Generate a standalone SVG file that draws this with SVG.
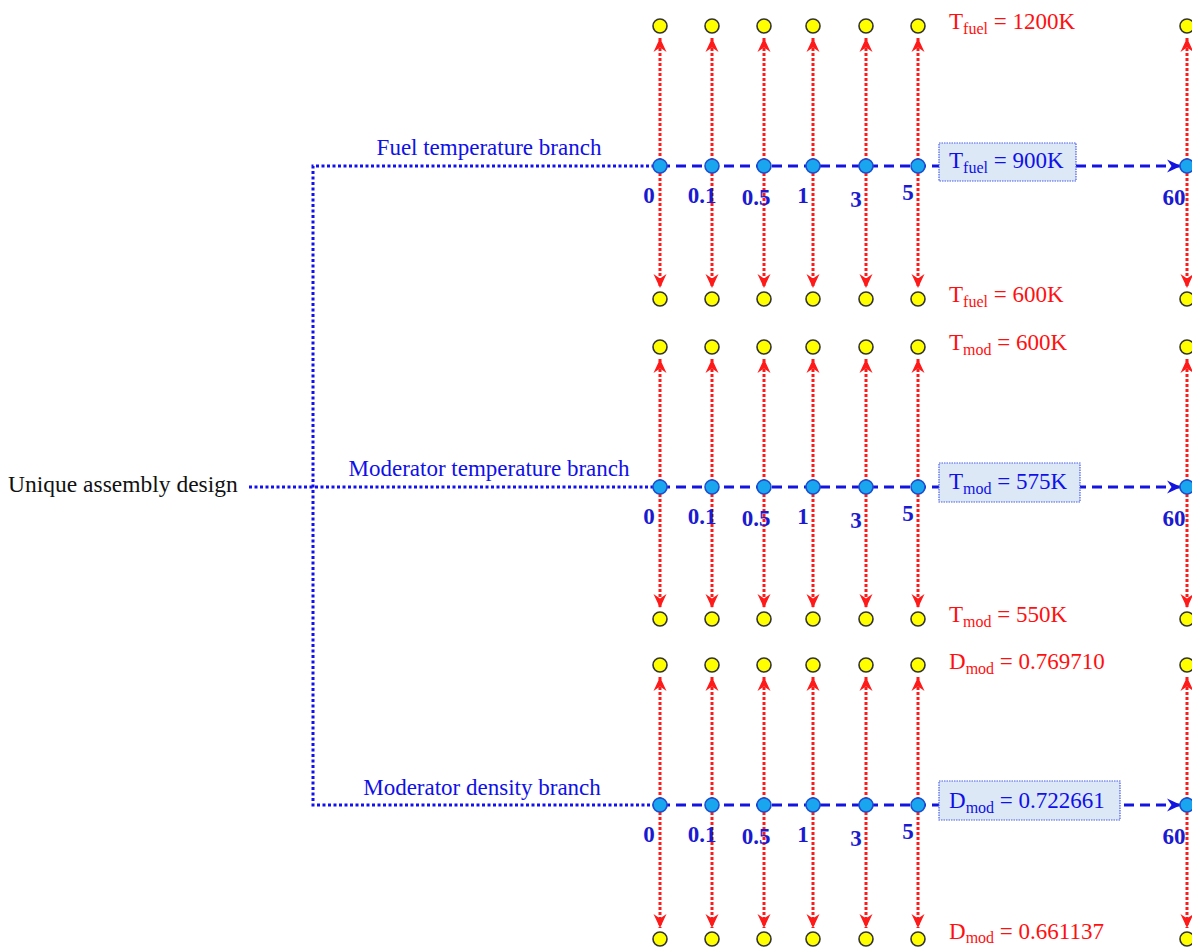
<svg xmlns="http://www.w3.org/2000/svg" width="1192" height="947" viewBox="0 0 1192 947">
<style>
.ser{font-family:"Liberation Serif","Times New Roman",serif}
.lbl{font-size:23px;fill:#1010e8}
.num{font-size:23px;font-weight:bold;fill:#1a1ad0;text-anchor:middle}
.red{font-size:23px;fill:#ff1010}
.sub{font-size:16px}
.blk{font-size:23.5px;fill:#111}
.yel{fill:#ffff00;stroke:#333;stroke-width:1.6}
.bn{fill:#1aa6ee;stroke:#1c4fd0;stroke-width:1.6}
.rl{stroke:#ff1a1a;stroke-width:3;stroke-dasharray:3,2;fill:none;marker-start:url(#ra);marker-end:url(#ra)}
.dot{stroke:#1010f0;stroke-width:3;stroke-dasharray:3,2.5;fill:none}
.dash{stroke:#1414e0;stroke-width:3;stroke-dasharray:10,6;fill:none;marker-end:url(#ba)}
.box{fill:#dce8f6;stroke:#4a5ee8;stroke-width:1.2;stroke-dasharray:1.5,1}
</style>
<defs>
<marker id="ra" markerUnits="userSpaceOnUse" markerWidth="16" markerHeight="14" refX="14" refY="7" orient="auto-start-reverse"><path d="M0,0.5 L14,7 L0,13.5 L4.5,7 z" fill="#ff1a1a"/></marker>
<marker id="ba" markerUnits="userSpaceOnUse" markerWidth="16" markerHeight="14" refX="14" refY="7" orient="auto"><path d="M0,0.5 L14,7 L0,13.5 L4.5,7 z" fill="#1414e0"/></marker>
</defs>
<rect width="1192" height="947" fill="#fff"/>
<g id="root">
<text class="ser blk" x="8" y="492">Unique assembly design</text>
</g>
<g id="connectors">
<path class="dot" d="M249,487 H660"/>
<path class="dot" d="M660,166 H313 V805 H660"/>
<g>
<path class="rl" d="M660,38 V288"/><path class="rl" d="M712,38 V288"/><path class="rl" d="M764,38 V288"/><path class="rl" d="M813,38 V288"/><path class="rl" d="M866,38 V288"/><path class="rl" d="M918,38 V288"/><path class="rl" d="M1187,38 V288"/>
</g>
<g>
<path class="rl" d="M660,359 V608"/><path class="rl" d="M712,359 V608"/><path class="rl" d="M764,359 V608"/><path class="rl" d="M813,359 V608"/><path class="rl" d="M866,359 V608"/><path class="rl" d="M918,359 V608"/><path class="rl" d="M1187,359 V608"/>
</g>
<g>
<path class="rl" d="M660,677 V928"/><path class="rl" d="M712,677 V928"/><path class="rl" d="M764,677 V928"/><path class="rl" d="M813,677 V928"/><path class="rl" d="M866,677 V928"/><path class="rl" d="M918,677 V928"/><path class="rl" d="M1187,677 V928"/>
</g>
<path class="dash" d="M660,166 H1181"/>
<path class="dash" d="M660,487 H1181"/>
<path class="dash" d="M660,805 H1181"/>
</g>
<g id="branch-fuel">
<text class="ser lbl" x="489" y="155" text-anchor="middle">Fuel temperature branch</text>
<g><circle class="yel" cx="660" cy="26" r="7"/><circle class="yel" cx="712" cy="26" r="7"/><circle class="yel" cx="764" cy="26" r="7"/><circle class="yel" cx="813" cy="26" r="7"/><circle class="yel" cx="866" cy="26" r="7"/><circle class="yel" cx="918" cy="26" r="7"/><circle class="yel" cx="1187" cy="26" r="7"/></g>
<g><circle class="yel" cx="660" cy="299" r="7"/><circle class="yel" cx="712" cy="299" r="7"/><circle class="yel" cx="764" cy="299" r="7"/><circle class="yel" cx="813" cy="299" r="7"/><circle class="yel" cx="866" cy="299" r="7"/><circle class="yel" cx="918" cy="299" r="7"/><circle class="yel" cx="1187" cy="299" r="7"/></g>
<g><circle class="bn" cx="660" cy="166" r="7"/><circle class="bn" cx="712" cy="166" r="7"/><circle class="bn" cx="764" cy="166" r="7"/><circle class="bn" cx="813" cy="166" r="7"/><circle class="bn" cx="866" cy="166" r="7"/><circle class="bn" cx="918" cy="166" r="7"/><circle class="bn" cx="1187" cy="166" r="7"/></g>
<rect class="box" x="939" y="143" width="137" height="38"/>
<text class="ser lbl" x="949" y="168">T<tspan class="sub" dy="5">fuel</tspan><tspan dy="-5"> = 900K</tspan></text>
<text class="ser red" x="949" y="29">T<tspan class="sub" dy="5">fuel</tspan><tspan dy="-5"> = 1200K</tspan></text>
<text class="ser red" x="949" y="302">T<tspan class="sub" dy="5">fuel</tspan><tspan dy="-5"> = 600K</tspan></text>
<g class="ser num"><text x="649" y="203">0</text><text x="702" y="203">0.1</text><text x="756" y="205">0.5</text><text x="803" y="203">1</text><text x="856" y="207">3</text><text x="908" y="200">5</text><text x="1174" y="205">60</text></g>
</g>
<g id="branch-modtemp">
<text class="ser lbl" x="489" y="476" text-anchor="middle">Moderator temperature branch</text>
<g><circle class="yel" cx="660" cy="347" r="7"/><circle class="yel" cx="712" cy="347" r="7"/><circle class="yel" cx="764" cy="347" r="7"/><circle class="yel" cx="813" cy="347" r="7"/><circle class="yel" cx="866" cy="347" r="7"/><circle class="yel" cx="918" cy="347" r="7"/><circle class="yel" cx="1187" cy="347" r="7"/></g>
<g><circle class="yel" cx="660" cy="619" r="7"/><circle class="yel" cx="712" cy="619" r="7"/><circle class="yel" cx="764" cy="619" r="7"/><circle class="yel" cx="813" cy="619" r="7"/><circle class="yel" cx="866" cy="619" r="7"/><circle class="yel" cx="918" cy="619" r="7"/><circle class="yel" cx="1187" cy="619" r="7"/></g>
<g><circle class="bn" cx="660" cy="487" r="7"/><circle class="bn" cx="712" cy="487" r="7"/><circle class="bn" cx="764" cy="487" r="7"/><circle class="bn" cx="813" cy="487" r="7"/><circle class="bn" cx="866" cy="487" r="7"/><circle class="bn" cx="918" cy="487" r="7"/><circle class="bn" cx="1187" cy="487" r="7"/></g>
<rect class="box" x="939" y="463" width="141" height="39"/>
<text class="ser lbl" x="949" y="489">T<tspan class="sub" dy="5">mod</tspan><tspan dy="-5"> = 575K</tspan></text>
<text class="ser red" x="949" y="350">T<tspan class="sub" dy="5">mod</tspan><tspan dy="-5"> = 600K</tspan></text>
<text class="ser red" x="949" y="622">T<tspan class="sub" dy="5">mod</tspan><tspan dy="-5"> = 550K</tspan></text>
<g class="ser num"><text x="649" y="524">0</text><text x="702" y="524">0.1</text><text x="756" y="526">0.5</text><text x="803" y="524">1</text><text x="856" y="528">3</text><text x="908" y="521">5</text><text x="1174" y="526">60</text></g>
</g>
<g id="branch-moddens">
<text class="ser lbl" x="482" y="795" text-anchor="middle">Moderator density branch</text>
<g><circle class="yel" cx="660" cy="665" r="7"/><circle class="yel" cx="712" cy="665" r="7"/><circle class="yel" cx="764" cy="665" r="7"/><circle class="yel" cx="813" cy="665" r="7"/><circle class="yel" cx="866" cy="665" r="7"/><circle class="yel" cx="918" cy="665" r="7"/><circle class="yel" cx="1187" cy="665" r="7"/></g>
<g><circle class="yel" cx="660" cy="939" r="7"/><circle class="yel" cx="712" cy="939" r="7"/><circle class="yel" cx="764" cy="939" r="7"/><circle class="yel" cx="813" cy="939" r="7"/><circle class="yel" cx="866" cy="939" r="7"/><circle class="yel" cx="918" cy="939" r="7"/><circle class="yel" cx="1187" cy="939" r="7"/></g>
<g><circle class="bn" cx="660" cy="805" r="7"/><circle class="bn" cx="712" cy="805" r="7"/><circle class="bn" cx="764" cy="805" r="7"/><circle class="bn" cx="813" cy="805" r="7"/><circle class="bn" cx="866" cy="805" r="7"/><circle class="bn" cx="918" cy="805" r="7"/><circle class="bn" cx="1187" cy="805" r="7"/></g>
<rect class="box" x="939" y="781" width="181" height="39"/>
<text class="ser lbl" x="949" y="808">D<tspan class="sub" dy="5">mod</tspan><tspan dy="-5"> = 0.722661</tspan></text>
<text class="ser red" x="949" y="669">D<tspan class="sub" dy="5">mod</tspan><tspan dy="-5"> = 0.769710</tspan></text>
<text class="ser red" x="949" y="939">D<tspan class="sub" dy="4">mod</tspan><tspan dy="-4"> = 0.661137</tspan></text>
<g class="ser num"><text x="649" y="842">0</text><text x="702" y="842">0.1</text><text x="756" y="844">0.5</text><text x="803" y="842">1</text><text x="856" y="846">3</text><text x="908" y="839">5</text><text x="1174" y="844">60</text></g>
</g>
</svg>
